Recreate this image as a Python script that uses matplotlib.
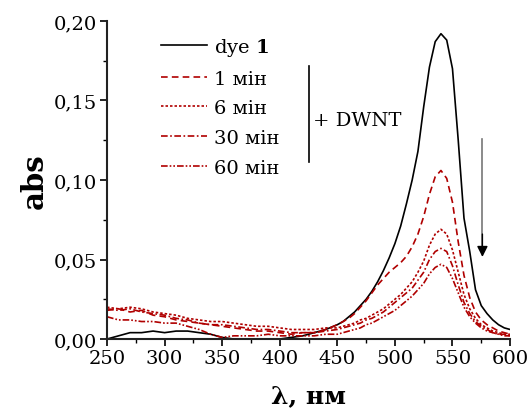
import numpy as np
import matplotlib
matplotlib.use('Agg')
import matplotlib.pyplot as plt
from matplotlib.ticker import MultipleLocator, FuncFormatter

plt.rcParams['font.family'] = 'DejaVu Serif'
plt.rcParams['mathtext.fontset'] = 'dejavuserif'

# wavelength grid (nm)
wl = list(range(250, 450, 10)) + list(range(450, 605, 5))

dye = [0.000, 0.002, 0.004, 0.004, 0.005, 0.004, 0.005, 0.005, 0.004, 0.003,
       0.001, 0.000, 0.000, 0.000, 0.000, 0.000, 0.001, 0.002, 0.004, 0.006,
       0.009, 0.011, 0.014, 0.017, 0.021, 0.025, 0.030, 0.036, 0.043, 0.051,
       0.060, 0.071, 0.085, 0.100, 0.118, 0.146, 0.171, 0.187, 0.192, 0.188,
       0.170, 0.125, 0.076, 0.055, 0.031, 0.021, 0.016, 0.012, 0.009, 0.007, 0.006]

min1 = [0.018, 0.019, 0.017, 0.018, 0.015, 0.014, 0.012, 0.011, 0.010, 0.009,
        0.008, 0.007, 0.006, 0.005, 0.005, 0.004, 0.003, 0.004, 0.004, 0.006,
        0.009, 0.011, 0.013, 0.016, 0.020, 0.024, 0.029, 0.034, 0.038, 0.042,
        0.045, 0.048, 0.052, 0.058, 0.066, 0.077, 0.091, 0.102, 0.106, 0.101,
        0.086, 0.061, 0.040, 0.026, 0.017, 0.012, 0.009, 0.007, 0.005, 0.004, 0.003]

min6 = [0.020, 0.019, 0.020, 0.019, 0.017, 0.016, 0.015, 0.013, 0.012, 0.011,
        0.011, 0.010, 0.009, 0.008, 0.008, 0.007, 0.006, 0.006, 0.006, 0.007,
        0.007, 0.008, 0.009, 0.010, 0.012, 0.013, 0.015, 0.017, 0.019, 0.022,
        0.025, 0.028, 0.032, 0.036, 0.042, 0.049, 0.059, 0.066, 0.069, 0.066,
        0.056, 0.042, 0.028, 0.019, 0.013, 0.009, 0.007, 0.005, 0.004, 0.003, 0.003]

min30 = [0.019, 0.018, 0.019, 0.017, 0.016, 0.015, 0.013, 0.012, 0.010, 0.009,
         0.009, 0.008, 0.007, 0.006, 0.006, 0.005, 0.004, 0.004, 0.004, 0.005,
         0.006, 0.007, 0.008, 0.009, 0.010, 0.012, 0.013, 0.015, 0.017, 0.020,
         0.023, 0.026, 0.029, 0.032, 0.037, 0.042, 0.050, 0.055, 0.057, 0.055,
         0.046, 0.034, 0.023, 0.016, 0.011, 0.008, 0.006, 0.004, 0.003, 0.003, 0.002]

min60 = [0.014, 0.012, 0.012, 0.011, 0.011, 0.010, 0.010, 0.008, 0.006, 0.003,
         0.001, 0.002, 0.002, 0.002, 0.003, 0.002, 0.002, 0.002, 0.002, 0.003,
         0.003, 0.004, 0.005, 0.006, 0.007, 0.009, 0.010, 0.012, 0.014, 0.016,
         0.018, 0.021, 0.024, 0.027, 0.031, 0.035, 0.041, 0.045, 0.047, 0.045,
         0.038, 0.029, 0.020, 0.014, 0.010, 0.007, 0.005, 0.004, 0.003, 0.002, 0.002]

labels = [r'dye $\mathbf{1}$', '1 мін', '6 мін', '30 мін', '60 мін']
red = '#b00000'

fig = plt.figure(figsize=(5.28, 4.14), dpi=100)
ax = fig.add_axes([0.2027, 0.1787, 0.7633, 0.7682])

ax.plot(wl, dye, color='black', lw=1.2, label=labels[0])
ax.plot(wl, min1, color=red, lw=1.2, ls=(0, (4, 2.5)), label=labels[1])
ax.plot(wl, min6, color=red, lw=1.2, ls=(0, (1.5, 1.2)), label=labels[2])
ax.plot(wl, min30, color=red, lw=1.2, ls=(0, (4, 1.5, 1, 1.5)), label=labels[3])
ax.plot(wl, min60, color=red, lw=1.2, ls=(0, (4, 1.2, 1, 1.2, 1, 1.2)), label=labels[4])

ax.set_xlim(250, 600)
ax.set_ylim(0, 0.20)
ax.xaxis.set_major_locator(MultipleLocator(50))
ax.xaxis.set_minor_locator(MultipleLocator(25))
ax.yaxis.set_major_locator(MultipleLocator(0.05))
ax.yaxis.set_minor_locator(MultipleLocator(0.025))
ax.yaxis.set_major_formatter(FuncFormatter(lambda v, p: f'{v:.2f}'.replace('.', ',')))

for s in ['top', 'right']:
    ax.spines[s].set_visible(False)
for s in ['left', 'bottom']:
    ax.spines[s].set_linewidth(1.5)
    ax.spines[s].set_color('#222222')
ax.tick_params(which='major', direction='out', length=5, width=1.2, labelsize=14, pad=2)
ax.tick_params(which='minor', direction='out', length=3, width=1.0)

ax.set_xlabel('λ, нм', fontsize=18, fontweight='bold', labelpad=12)
ax.set_ylabel('abs', fontsize=21, fontweight='bold', labelpad=4)

leg = ax.legend(loc='upper left', bbox_to_anchor=(0.135, 0.953), frameon=False,
                fontsize=14, handlelength=2.35, handletextpad=0.35,
                labelspacing=0.6, borderpad=0, borderaxespad=0)

# bracket for DWNT group
ax.plot([0.501, 0.501], [0.557, 0.858], transform=ax.transAxes, color='black', lw=1.2)
ax.text(0.512, 0.69, '+ DWNT', transform=ax.transAxes, fontsize=14, va='center', ha='left')

# arrow showing decrease
ax.plot([576, 576], [0.126, 0.058], color='#777777', lw=1.2)
ax.annotate('', xy=(576, 0.0516), xytext=(576, 0.066),
            arrowprops=dict(arrowstyle='-|>', color='black', lw=1.0,
                            mutation_scale=16, shrinkA=0, shrinkB=0))

fig.savefig('out.png', dpi=100)
